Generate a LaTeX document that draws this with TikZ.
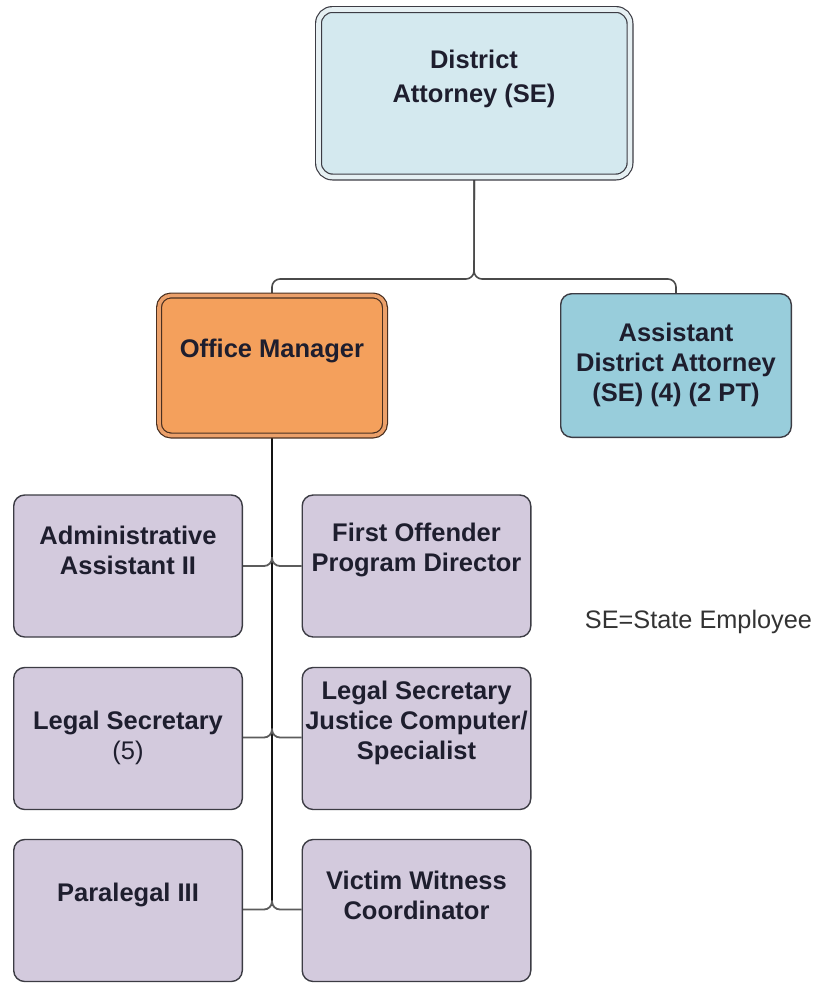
\documentclass[tikz,border=0pt]{standalone}
\usepackage{fontspec}
\setmainfont{Liberation Sans}
\usetikzlibrary{backgrounds}
\definecolor{ink}{HTML}{1E1E2E}
\definecolor{edge}{HTML}{3C3C44}
\definecolor{dafill}{HTML}{D4E9EF}
\definecolor{daband}{HTML}{E6F0F3}
\definecolor{omfill}{HTML}{F4A05C}
\definecolor{omband}{HTML}{EBA06A}
\definecolor{omedge}{HTML}{4A3020}
\definecolor{adafill}{HTML}{98CDDB}
\definecolor{lav}{HTML}{D3CADD}
\definecolor{wire}{HTML}{4A4A4A}
\begin{document}
\begin{tikzpicture}[x=1pt,y=-1pt,
  staffbox/.style={draw=edge, line width=1.4pt, rounded corners=11pt, fill=lav,
    minimum width=228.6pt, minimum height=142pt, inner sep=0pt},
  headbox/.style={draw=edge, line width=1.2pt, double=daband, double distance=4.6pt,
    rounded corners=14pt, fill=dafill, minimum width=311.5pt, minimum height=167.5pt, inner sep=0pt},
  mgrbox/.style={draw=omedge, line width=1.2pt, double=omband, double distance=3.6pt,
    rounded corners=12pt, fill=omfill, minimum width=226pt, minimum height=140pt, inner sep=0pt},
  adabox/.style={draw=edge, line width=1.4pt, rounded corners=11pt, fill=adafill,
    minimum width=230.6pt, minimum height=143.6pt, inner sep=0pt},
  txt/.style={font=\fontsize{25.5}{30}\selectfont\bfseries, align=center, text=ink, inner sep=0pt},
  toplink/.style={draw=wire, line width=1.6pt, rounded corners=8pt},
  trunkline/.style={draw=black!92, line width=2.6pt},
  branch/.style={draw=wire!90, line width=1.8pt, rounded corners=8pt},
]
\useasboundingbox (0,0) rectangle (823,983);

% --- top level ---
\node[headbox] (da) at (474.25,93.25) {};
\node[txt, font=\fontsize{25.5}{34}\selectfont\bfseries] (da-t) at (474,79) {District\\Attorney (SE)};

\node[mgrbox] (om) at (272,365.5) {};
\node[txt] (om-t) at (272,351) {Office Manager};

\node[adabox] (ada) at (676,365.5) {};
\node[txt] (ada-t) at (676,365) {Assistant\\District Attorney\\(SE) (4) (2 PT)};

% --- staff under the office manager ---
\node[staffbox] (a1) at (128,566) {};
\node[txt] (a1-t) at (128,550) {Administrative\\Assistant II};
\node[staffbox] (b1) at (416.5,566) {};
\node[txt] (b1-t) at (416.5,550) {First Offender\\Program Director};

\node[staffbox] (a2) at (128,738.5) {};
\node[txt] (a2-t) at (128,738) {Legal Secretary\\\mdseries (5)};
\node[staffbox] (b2) at (416.5,738.5) {};
\node[txt] (b2-t) at (416.5,723) {Legal Secretary\\Justice Computer/\\Specialist};

\node[staffbox] (a3) at (128,910.5) {};
\node[txt] (a3-t) at (128,895) {Paralegal III};
\node[staffbox] (b3) at (416.5,910.5) {};
\node[txt] (b3-t) at (416.5,895) {Victim Witness\\Coordinator};

\node[font=\fontsize{25.3}{30}\selectfont, text=black!80, inner sep=0pt] (key) at (698.5,622) {SE=State Employee};

% --- connectors ---
\coordinate (j1) at (474,279);
\coordinate (k1) at (272,557);
\coordinate (k2) at (272,728.5);
\coordinate (k3) at (272,900.5);
\coordinate (tend) at (272,906);

\begin{scope}[on background layer]
  \draw[toplink] (da.south) -- (j1) -- (om.north |- j1) -- (om.north);
  \draw[toplink] (da.south) -- (j1) -- (ada.north |- j1) -- (ada.north);

  \draw[trunkline] (om.south) -- (tend);

  \draw[branch] (k1) -- (272,566) -- (a1.east);
  \draw[branch] (k1) -- (272,566) -- (b1.west);
  \draw[branch] (k2) -- (272,737.5) -- (a2.east |- 0,737.5);
  \draw[branch] (k2) -- (272,737.5) -- (b2.west |- 0,737.5);
  \draw[branch] (k3) -- (272,909.5) -- (a3.east |- 0,909.5);
  \draw[branch] (k3) -- (272,909.5) -- (b3.west |- 0,909.5);
\end{scope}
\end{tikzpicture}
\end{document}
